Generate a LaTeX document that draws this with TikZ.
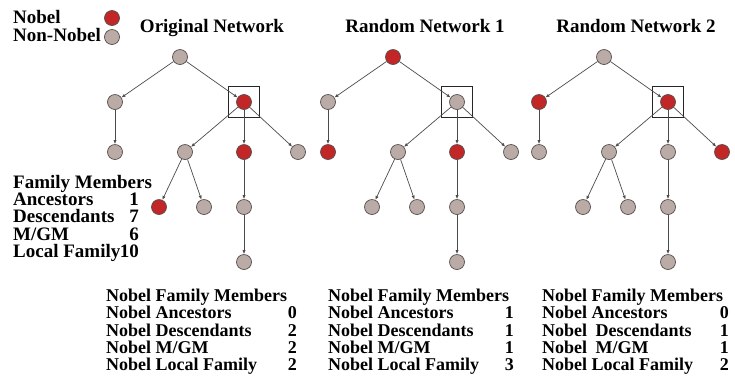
\documentclass[tikz,border=0pt]{standalone}
\usepackage{fontspec}
\setmainfont{Liberation Serif}
\usetikzlibrary{arrows.meta,positioning}
\definecolor{nobCol}{RGB}{195,38,38}
\definecolor{nonCol}{RGB}{186,171,166}
\definecolor{rimCol}{RGB}{85,78,78}
\definecolor{linkCol}{RGB}{75,75,75}
\tikzset{
  person/.style={circle,draw=rimCol,line width=0.7pt,minimum size=15pt,inner sep=0pt},
  nob/.style={person,fill=nobCol},
  non/.style={person,fill=nonCol},
  link/.style={-{Latex[length=4pt,width=3.2pt]},draw=linkCol,line width=0.7pt},
  focus/.style={draw=black!85,line width=1.6pt,minimum size=31pt,inner sep=0pt},
  head/.style={font=\fontsize{19}{19}\selectfont\bfseries,inner sep=0pt},
  row/.style={font=\fontsize{18}{18}\selectfont\bfseries,inner sep=0pt},
}

\begin{document}
\begin{tikzpicture}[x=1pt,y=-1pt]
  \useasboundingbox (0,0) rectangle (735,376);
  % --- legend ---
  \node[head,anchor=base west] (legnob) at (13,23.3) {Nobel};
  \node[head,anchor=base west] (legnon) at (13,41.7) {Non-Nobel};
  \node[nob] (legnobdot) at (112,18) {};
  \node[non] (legnondot) at (112,37) {};
  % --- the three family trees: same shape, shifted, other colours ---
  \foreach \t/\dx/\ttl/\nA/\nB/\nC/\nD/\nE/\nF/\nG/\nH/\nI/\nJ/\nK in {%
      o/0/Original Network/non/non/nob/non/non/nob/non/nob/non/non/non,%
      a/213/Random Network 1/nob/non/non/nob/non/nob/non/non/non/non/non,%
      b/424/Random Network 2/non/nob/nob/non/non/non/nob/non/non/non/non}{
    \node[head,anchor=base] (\t-title) at ({212+\dx},32.3) {\ttl};
    \node[\nA] (\t0) at ({180+\dx},57) {};
    \node[\nB] (\t1) at ({115+\dx},102) {};
    \node[\nC] (\t2) at ({244+\dx},102) {};
    \node[\nD] (\t3) at ({115+\dx},152) {};
    \node[\nE] (\t4) at ({185+\dx},152) {};
    \node[\nF] (\t5) at ({244+\dx},152) {};
    \node[\nG] (\t6) at ({298+\dx},152) {};
    \node[\nH] (\t7) at ({159+\dx},207) {};
    \node[\nI] (\t8) at ({204+\dx},207) {};
    \node[\nJ] (\t9) at ({244+\dx},207) {};
    \node[\nK] (\t10) at ({244+\dx},262) {};
    \node[focus] (\t-box) at (\t2) {}; % focal person
    \foreach \p/\c in {0/1,0/2,1/3,2/4,2/5,2/6,4/7,4/8,5/9,9/10}
      \draw[link] (\t\p) -- (\t\c);
  }
  % --- family counts of the focal person ---
  \node[head,anchor=base west] (fam) at (13,188.5) {Family Members};
  \foreach \i/\lab/\num in {1/Ancestors/1,2/Descendants/7,3/{M/GM}/6,4/Local Family/10}{
    \node[head,anchor=base west] (fam\i) at (13,{188.5+17.2*\i}) {\lab};
    \node[head,anchor=base east] (famn\i) at (139,{188.5+17.2*\i}) {\num};
  }
  % --- nobel counts under each tree ---
  \foreach \t/\lx/\rx/\wgap/\nAnc/\nDes/\nMgm/\nLoc in {%
      p/106/297/{}/0/2/2/2,%
      q/328/514/{}/1/1/1/3,%
      r/542/729/{\hspace{4pt}}/0/1/1/2}{
    \node[row,anchor=base west] (\t-head) at (\lx,301.7) {Nobel Family Members};
    \node[row,anchor=base west] (\t-anc) at (\lx,318.95) {Nobel Ancestors};
    \node[row,anchor=base east] (\t-ancn) at (\rx,318.95) {\nAnc};
    \node[row,anchor=base west] (\t-des) at (\lx,336.2) {Nobel\wgap{} Descendants};
    \node[row,anchor=base east] (\t-desn) at (\rx,336.2) {\nDes};
    \node[row,anchor=base west] (\t-mgm) at (\lx,353.45) {Nobel\wgap{} M/GM};
    \node[row,anchor=base east] (\t-mgmn) at (\rx,353.45) {\nMgm};
    \node[row,anchor=base west] (\t-loc) at (\lx,370.7) {Nobel Local Family};
    \node[row,anchor=base east] (\t-locn) at (\rx,370.7) {\nLoc};
  }
\end{tikzpicture}
\end{document}
